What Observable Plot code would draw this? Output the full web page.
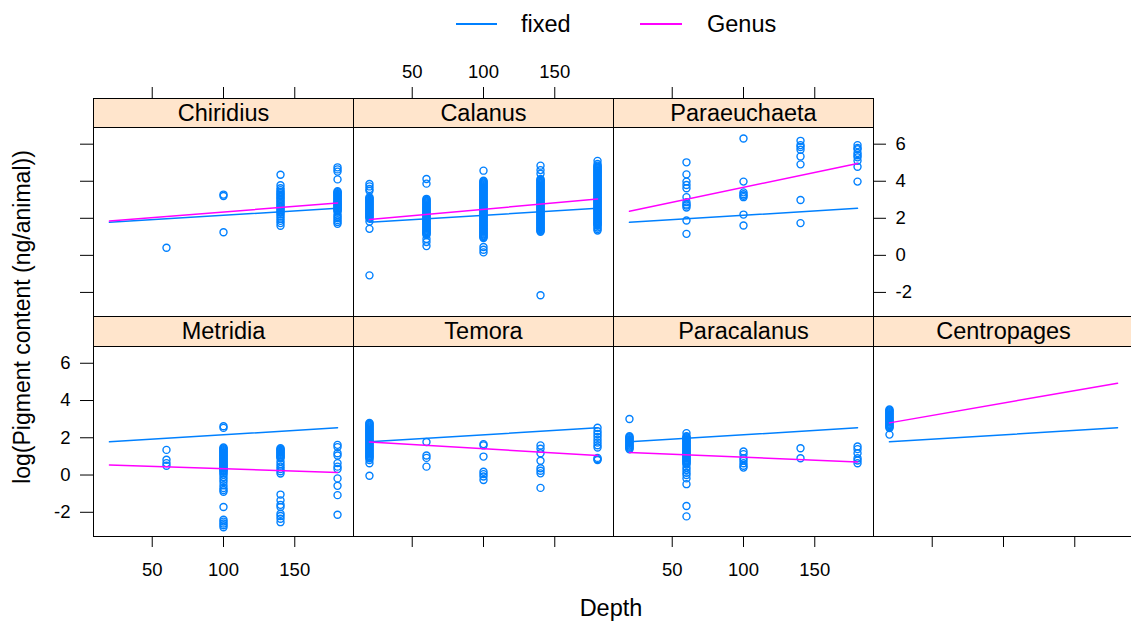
<!DOCTYPE html>
<html>
<head>
<meta charset="utf-8">
<script src="https://cdn.jsdelivr.net/npm/d3@7"></script>
<script src="https://cdn.jsdelivr.net/npm/@observablehq/plot@0.6"></script>
<style>
  html, body { margin: 0; padding: 0; background: #fff; overflow: hidden; }
  #chart { position: relative; width: 1131px; height: 621px; overflow: hidden; background: #fff;
           font-family: "Liberation Sans", Arial, sans-serif; color: #000; }
  .strip { position: absolute; box-sizing: border-box; border: 1px solid #000; background: #ffe5cc;
           display: flex; align-items: center; justify-content: center; font-size: 23.5px; }
  .legline { position: absolute; height: 1.5px; }
  .legtext { position: absolute; font-size: 23.5px; transform: translateY(-50%); white-space: nowrap; }
  .ylab { position: absolute; font-size: 23px; white-space: nowrap; transform: translate(-50%, -50%) rotate(-90deg); }
  .xlab { position: absolute; font-size: 23.5px; white-space: nowrap; transform: translate(-50%, -50%); }
  svg { pointer-events: none; }
</style>
</head>
<body>
<div id="chart">
  <div class="legline" style="left:456px;top:23px;width:41px;background:#0080ff"></div>
  <div class="legtext" style="left:521px;top:24px">fixed</div>
  <div class="legline" style="left:640px;top:23px;width:42px;background:#ff00ff"></div>
  <div class="legtext" style="left:707px;top:24px">Genus</div>
  <div class="ylab" style="left:22px;top:317px">log(Pigment content (ng/animal))</div>
  <div class="xlab" style="left:611px;top:608px">Depth</div>
</div>
<script>
// ---------------- data ----------------
const genera = ["Chiridius", "Calanus", "Paraeuchaeta", "Metridia", "Temora", "Paracalanus", "Centropages"];
const depthTicks = [50, 100, 150];
const pigmentTicks = [-2, 0, 2, 4, 6];
const fitDepths = [20, 180];
const fixedFit = [1.78, 2.54];
const genusFit = {
  Chiridius: [1.85, 2.83], Calanus: [1.93, 3.04], Paraeuchaeta: [2.38, 4.96],
  Metridia: [0.54, 0.14], Temora: [1.77, 1.05], Paracalanus: [1.21, 0.70], Centropages: [2.8, 4.93]
};

const chiridius = {
  60: [0.41],
  100: [3.2, 3.28, 1.25],
  140: [4.35, 3.78, 3.62, 3.52, 3.42, 3.35, 3.27, 3.2, 3.12, 3.05, 2.97, 2.9, 2.82, 2.75, 2.67, 2.6, 2.52, 2.45, 2.37, 2.3, 2.2, 2.1, 1.98, 1.86, 1.74, 1.6],
  180: [4.75, 4.64, 4.52, 4.1, 3.46, 3.41, 3.36, 3.31, 3.26, 3.21, 3.16, 3.11, 3.06, 3.01, 2.96, 2.91, 2.86, 2.81, 2.76, 2.71, 2.66, 2.61, 2.56, 2.51, 2.46, 2.41, 2.36, 2.2, 2.1, 2.0, 1.9, 1.8, 1.7]
};
const calanus = {
  20: [3.85, 3.72, 3.58, 3.48, 3.14, 3.09, 3.04, 2.99, 2.94, 2.89, 2.84, 2.79, 2.74, 2.69, 2.64, 2.59, 2.54, 2.49, 2.44, 2.39, 2.34, 2.29, 2.24, 2.19, 2.14, 2.09, 2.04, 1.99, 1.83, 1.43, -1.08],
  60: [4.12, 3.87, 3.05, 3.0, 2.95, 2.9, 2.85, 2.8, 2.75, 2.7, 2.65, 2.6, 2.55, 2.5, 2.45, 2.4, 2.35, 2.3, 2.25, 2.2, 2.15, 2.1, 2.05, 2.0, 1.95, 1.9, 1.85, 1.8, 1.75, 1.7, 1.65, 1.6, 1.55, 1.5, 1.45, 1.4, 1.35, 1.3, 1.25, 1.2, 1.15, 1.1, 0.88, 0.72, 0.5],
  100: [4.57, 4.03, 3.98, 3.93, 3.88, 3.83, 3.78, 3.73, 3.68, 3.63, 3.58, 3.53, 3.48, 3.43, 3.38, 3.33, 3.28, 3.23, 3.18, 3.13, 3.08, 3.03, 2.98, 2.93, 2.88, 2.83, 2.78, 2.73, 2.68, 2.63, 2.58, 2.53, 2.48, 2.43, 2.38, 2.33, 2.28, 2.23, 2.18, 2.13, 2.08, 2.03, 1.98, 1.93, 1.88, 1.83, 1.78, 1.73, 1.68, 1.63, 1.58, 1.53, 1.48, 1.43, 1.38, 1.33, 1.28, 1.23, 1.18, 1.13, 1.08, 1.03, 0.98, 0.93, 0.45, 0.3, 0.16],
  140: [4.84, 4.6, 4.4, 4.12, 4.07, 4.02, 3.97, 3.92, 3.87, 3.82, 3.77, 3.72, 3.67, 3.62, 3.57, 3.52, 3.47, 3.42, 3.37, 3.32, 3.27, 3.22, 3.17, 3.12, 3.07, 3.02, 2.97, 2.92, 2.87, 2.82, 2.77, 2.72, 2.67, 2.62, 2.57, 2.52, 2.47, 2.42, 2.37, 2.32, 2.27, 2.22, 2.17, 2.12, 2.07, 2.02, 1.97, 1.92, 1.87, 1.82, 1.77, 1.72, 1.67, 1.62, 1.57, 1.52, 1.47, 1.42, 1.37, 1.32, 1.27, -2.15],
  180: [5.1, 4.93, 4.84, 4.79, 4.74, 4.69, 4.64, 4.59, 4.54, 4.49, 4.44, 4.39, 4.34, 4.29, 4.24, 4.19, 4.14, 4.09, 4.04, 3.99, 3.94, 3.89, 3.84, 3.79, 3.74, 3.69, 3.64, 3.59, 3.54, 3.49, 3.44, 3.39, 3.34, 3.29, 3.24, 3.19, 3.14, 3.09, 3.04, 2.99, 2.94, 2.89, 2.84, 2.79, 2.74, 2.69, 2.64, 2.59, 2.54, 2.49, 2.44, 2.39, 2.34, 2.29, 2.24, 2.19, 2.14, 2.09, 2.04, 1.99, 1.94, 1.89, 1.84, 1.79, 1.74, 1.69, 1.64, 1.6, 1.5, 1.42, 1.34]
};
const paraeuchaeta = {
  60: [5.02, 4.37, 3.98, 3.8, 3.62, 3.14, 2.87, 2.75, 2.69, 2.58, 1.88, 1.16],
  100: [6.31, 3.98, 3.4, 3.3, 3.22, 3.14, 2.2, 1.61],
  140: [6.18, 5.95, 5.85, 5.7, 5.34, 4.91, 2.99, 1.74],
  180: [5.95, 5.8, 5.73, 5.52, 5.4, 5.29, 5.1, 4.78, 3.98]
};
const metridia = {
  60: [1.35, 0.82, 0.64, 0.5],
  100: [2.62, 2.53, 1.48, 1.43, 1.38, 1.33, 1.28, 1.23, 1.18, 1.13, 1.08, 1.03, 0.98, 0.93, 0.88, 0.83, 0.78, 0.73, 0.68, 0.63, 0.58, 0.53, 0.48, 0.43, 0.38, 0.33, 0.28, 0.23, 0.18, 0.1, 0.02, -0.12, -0.25, -0.38, -0.55, -0.7, -0.8, -0.9, -1.72, -2.4, -2.5, -2.6, -2.7, -2.8],
  140: [1.44, 1.39, 1.34, 1.29, 1.24, 1.19, 1.14, 1.09, 1.04, 0.99, 0.94, 0.9, 0.72, 0.58, 0.45, 0.32, 0.2, 0.08, -1.05, -1.36, -1.6, -1.72, -2.08, -2.2, -2.35, -2.53],
  180: [1.62, 1.5, 1.17, 1.05, 0.64, 0.45, 0.32, -0.18, -0.58, -1.08, -2.13]
};
const temora = {
  20: [2.8, 2.75, 2.7, 2.65, 2.6, 2.55, 2.5, 2.45, 2.4, 2.35, 2.3, 2.25, 2.2, 2.15, 2.1, 2.05, 2.0, 1.95, 1.9, 1.85, 1.8, 1.75, 1.7, 1.65, 1.6, 1.55, 1.5, 1.45, 1.4, 1.35, 1.3, 1.25, 1.2, 1.15, 1.1, 1.05, 1.0, 0.95, 0.9, 0.81, 0.63, -0.04],
  60: [1.77, 1.05, 0.92, 0.45],
  100: [1.66, 1.59, 0.99, 0.18, 0.05, -0.08, -0.27],
  140: [1.59, 1.41, 1.17, 0.77, 0.36, 0.23, 0.09, -0.69],
  180: [2.54, 2.35, 2.2, 2.05, 1.9, 1.75, 1.6, 1.48, 0.92, 0.85, 0.81]
};
const paracalanus = {
  20: [3.01, 2.08, 2.03, 1.98, 1.93, 1.88, 1.83, 1.78, 1.73, 1.68, 1.63, 1.58, 1.53, 1.48, 1.43, 1.38],
  60: [2.25, 2.08, 2.03, 1.98, 1.93, 1.88, 1.83, 1.78, 1.73, 1.68, 1.63, 1.58, 1.53, 1.48, 1.43, 1.38, 1.33, 1.28, 1.23, 1.18, 1.13, 1.08, 1.03, 0.98, 0.93, 0.88, 0.83, 0.78, 0.73, 0.68, 0.62, 0.56, 0.4, 0.27, 0.12, 0.0, -0.18, -0.49, -1.66, -2.22],
  100: [1.26, 1.12, 0.9, 0.78, 0.63, 0.5, 0.4],
  140: [1.44, 0.9],
  180: [1.53, 1.39, 1.17, 0.9, 0.78, 0.63]
};
const centropages = {
  20: [3.52, 3.47, 3.42, 3.37, 3.32, 3.27, 3.22, 3.17, 3.12, 3.07, 3.02, 2.97, 2.92, 2.87, 2.82, 2.77, 2.72, 2.67, 2.62, 2.57, 2.52, 2.17]
};

const pointsByGenus = {
  Chiridius: chiridius, Calanus: calanus, Paraeuchaeta: paraeuchaeta, Metridia: metridia,
  Temora: temora, Paracalanus: paracalanus, Centropages: centropages
};

// ---------------- layout ----------------
const colLeft = [93, 353, 613, 873];
const rows = [
  {stripTop: 98, top: 127, bottom: 316},
  {stripTop: 316, top: 346, bottom: 536}
];
const PW = 260, M = 90;
const xDomain = [8.8, 191.2];
const yDomain = [-3.3, 6.9];
const FONT = '"Liberation Sans", Arial, sans-serif';
const fmt = d => String(d);

const panels = [
  {genus: "Chiridius",    col: 0, row: 0, top: "ticks",  left: "ticks"},
  {genus: "Calanus",      col: 1, row: 0, top: "labels"},
  {genus: "Paraeuchaeta", col: 2, row: 0, top: "ticks",  right: "labels"},
  {genus: "Metridia",     col: 0, row: 1, bottom: "labels", left: "labels"},
  {genus: "Temora",       col: 1, row: 1, bottom: "ticks"},
  {genus: "Paracalanus",  col: 2, row: 1, bottom: "labels"},
  {genus: "Centropages",  col: 3, row: 1, bottom: "ticks"}
];

const chart = document.getElementById("chart");

function toPoints(obj) {
  return Object.entries(obj).flatMap(([d, vs]) => vs.map(v => ({depth: +d, value: v})));
}
function fitLine(vals) {
  return fitDepths.map((d, i) => ({depth: d, value: vals[i]}));
}

for (const p of panels) {
  const g = rows[p.row];
  const H = g.bottom - g.top;
  const stripH = g.top - g.stripTop;
  const marks = [
    Plot.dot(toPoints(pointsByGenus[p.genus]), {x: "depth", y: "value", r: 3.5, stroke: "#0080ff", strokeWidth: 1.4, fill: "none"}),
    Plot.line(fitLine(fixedFit), {x: "depth", y: "value", stroke: "#0080ff", strokeWidth: 1.5}),
    Plot.line(fitLine(genusFit[p.genus]), {x: "depth", y: "value", stroke: "#ff00ff", strokeWidth: 1.5}),
    Plot.frame({stroke: "#000", strokeWidth: 1})
  ];
  if (p.top) marks.push(Plot.axisX({anchor: "top", ticks: depthTicks, tickFormat: fmt, dy: -stripH, tickSize: 12, tickPadding: 9,
    fontSize: 18.5, label: null, stroke: "#000", fill: p.top === "labels" ? "#000" : "none"}));
  if (p.bottom) marks.push(Plot.axisX({anchor: "bottom", ticks: depthTicks, tickFormat: fmt, tickSize: 11, tickPadding: 15,
    fontSize: 18.5, label: null, stroke: "#000", fill: p.bottom === "labels" ? "#000" : "none"}));
  if (p.left) marks.push(Plot.axisY({anchor: "left", ticks: pigmentTicks, tickFormat: fmt, tickSize: 13, tickPadding: 10,
    fontSize: 18.5, label: null, stroke: "#000", fill: p.left === "labels" ? "#000" : "none"}));
  if (p.right) marks.push(Plot.axisY({anchor: "right", ticks: pigmentTicks, tickFormat: fmt, tickSize: 12, tickPadding: 10,
    fontSize: 18.5, label: null, stroke: "#000", fill: p.right === "labels" ? "#000" : "none"}));

  const svg = Plot.plot({
    width: PW + 2 * M,
    height: H + 2 * M,
    margin: M,
    x: {domain: xDomain, axis: null},
    y: {domain: yDomain, axis: null},
    style: {background: "transparent", fontFamily: FONT, fontSize: "18.5px", color: "#000", maxWidth: "none", overflow: "visible"},
    marks
  });
  svg.style.position = "absolute";
  svg.style.left = (colLeft[p.col] - M) + "px";
  svg.style.top = (g.top - M) + "px";
  chart.appendChild(svg);

  const strip = document.createElement("div");
  strip.className = "strip";
  strip.style.left = colLeft[p.col] + "px";
  strip.style.top = g.stripTop + "px";
  strip.style.width = (PW + 1) + "px";
  strip.style.height = (stripH + 1) + "px";
  strip.textContent = p.genus;
  chart.appendChild(strip);
}
</script>
</body>
</html>
